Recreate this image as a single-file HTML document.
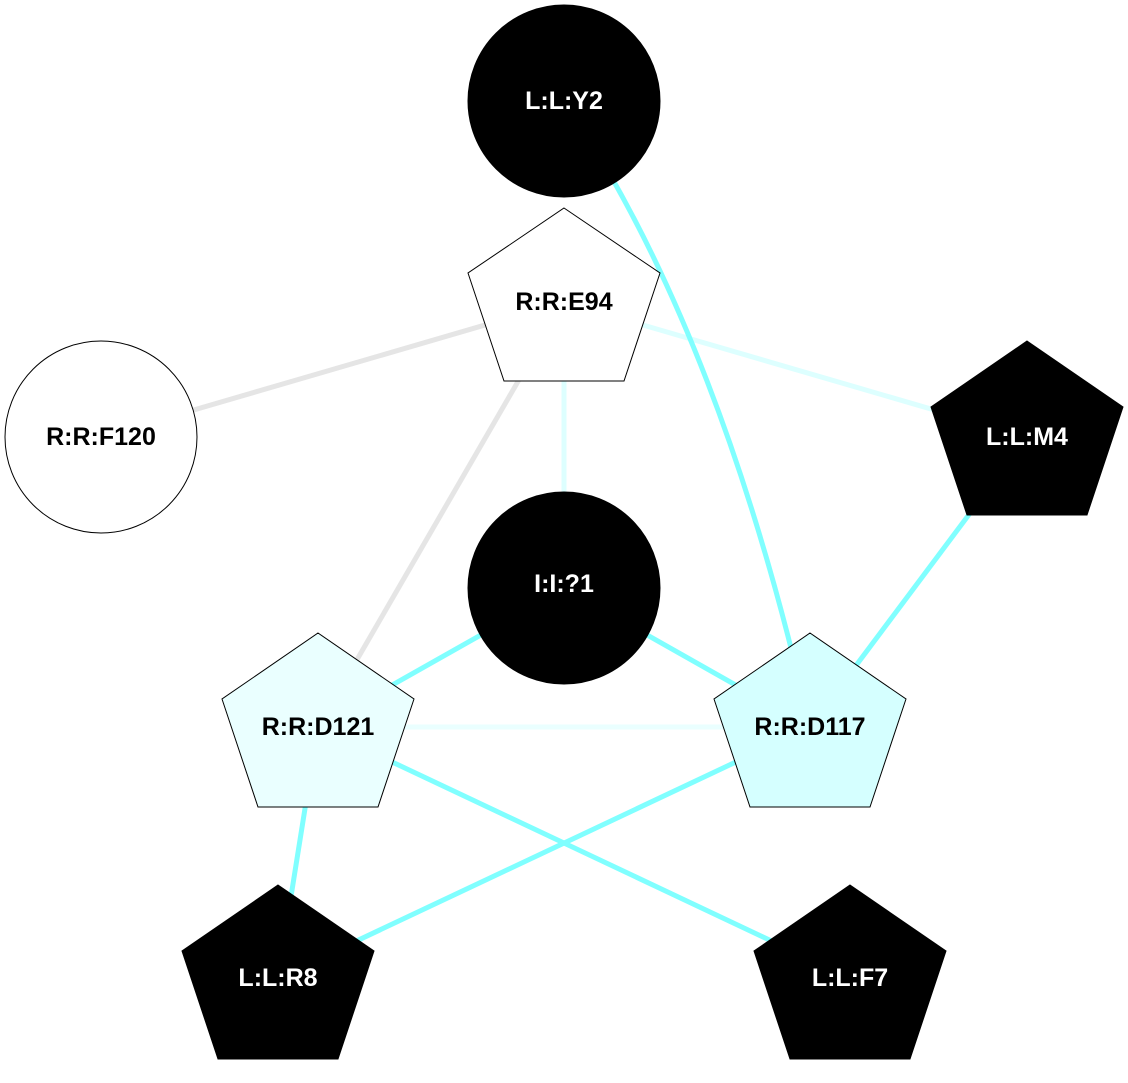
<!DOCTYPE html>
<html><head><style>html,body{margin:0;padding:0;background:#fff}</style></head><body>
<svg width="1128" height="1083" xmlns="http://www.w3.org/2000/svg" style="display:block">
<g stroke-width="5" fill="none">
<line x1="564" y1="302" x2="101" y2="437" stroke="#e5e5e5"/>
<line x1="564" y1="302" x2="1027" y2="437" stroke="#ddffff"/>
<line x1="564" y1="302" x2="318" y2="727" stroke="#e5e5e5"/>
<line x1="564" y1="302" x2="564" y2="588" stroke="#ddffff"/>
<line x1="318" y1="727" x2="810" y2="727" stroke="#eaffff"/>
<line x1="564" y1="588" x2="318" y2="727" stroke="#80ffff"/>
<line x1="564" y1="588" x2="810" y2="727" stroke="#80ffff"/>
<line x1="318" y1="727" x2="278" y2="978" stroke="#80ffff"/>
<line x1="318" y1="727" x2="850" y2="978" stroke="#80ffff"/>
<line x1="810" y1="727" x2="278" y2="978" stroke="#80ffff"/>
<line x1="1027" y1="437" x2="810" y2="727" stroke="#80ffff"/>
<path d="M564,101 Q720,330 810,727" stroke="#80ffff"/>
</g>
<g stroke="#000" stroke-width="1">
<circle cx="564" cy="101" r="96" fill="#000"/>
<polygon points="564,208 660,273 624,381 504,381 468,273" fill="#fff"/>
<circle cx="101" cy="437" r="96" fill="#fff"/>
<polygon points="1027,341 1123,407 1087,515 967,515 931,407" fill="#000"/>
<circle cx="564" cy="588" r="96" fill="#000"/>
<polygon points="318,633 414,699 378,807 258,807 222,699" fill="#eaffff"/>
<polygon points="810,633 906,699 870,807 750,807 714,699" fill="#d5ffff"/>
<polygon points="278,885 374,951 338,1059 218,1059 182,951" fill="#000"/>
<polygon points="850,885 946,951 910,1059 790,1059 754,951" fill="#000"/>
</g>
<g font-family="Liberation Sans, sans-serif" font-weight="bold" font-size="25" text-anchor="middle" dominant-baseline="central">
<text x="564" y="101" fill="#fff">L:L:Y2</text>
<text x="564" y="302" fill="#000">R:R:E94</text>
<text x="101" y="437" fill="#000">R:R:F120</text>
<text x="1027" y="437" fill="#fff">L:L:M4</text>
<text x="564" y="584" fill="#fff">I:I:?1</text>
<text x="318" y="727" fill="#000">R:R:D121</text>
<text x="810" y="727" fill="#000">R:R:D117</text>
<text x="278" y="978" fill="#fff">L:L:R8</text>
<text x="850" y="978" fill="#fff">L:L:F7</text>
</g>
</svg>
</body></html>
